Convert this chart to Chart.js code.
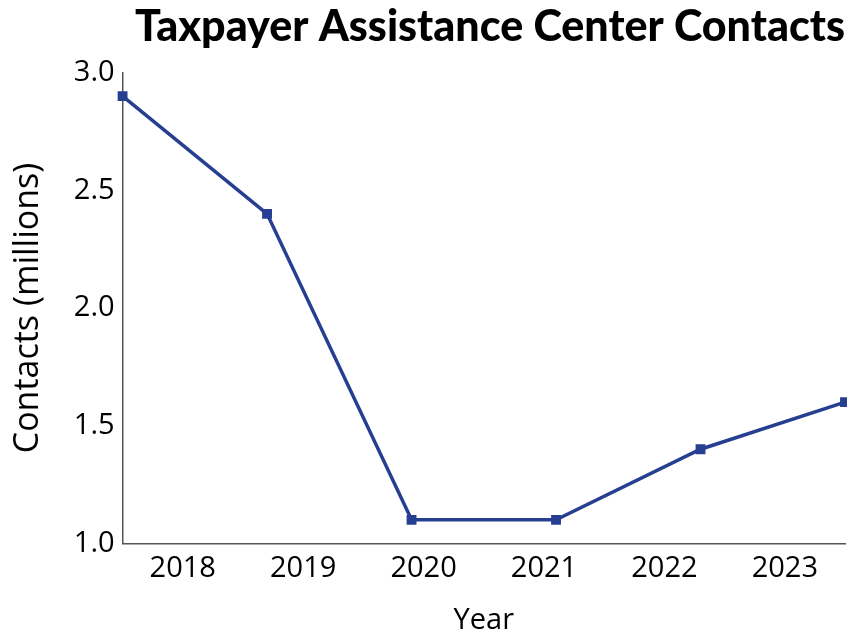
<!DOCTYPE html>
<html>
<head>
<meta charset="utf-8">
<script src="https://cdn.jsdelivr.net/npm/chart.js@4/dist/chart.umd.min.js"></script>
<style>
  html, body { margin: 0; padding: 0; background: #fff; }
  #wrap { width: 847px; height: 631px; }
</style>
</head>
<body>
<div id="wrap"><canvas id="chart" width="847" height="631"></canvas></div>
<script>
const years = ['2018', '2019', '2020', '2021', '2022', '2023']
const contacts = [2.9, 2.4, 1.1, 1.1, 1.4, 1.6]
const yTicks = [1.0, 1.5, 2.0, 2.5, 3.0]

const lineColor = '#263f91'
const axisColor = '#555555'
const labelFont = { family: '"Open Sans", sans-serif', size: 29 }

new Chart(document.getElementById('chart'), {
    type: 'line',
    data: {
        labels: years,
        datasets: [{
            data: contacts,
            xAxisID: 'x',
            borderColor: lineColor,
            backgroundColor: lineColor,
            borderWidth: 3.5,
            pointStyle: 'rect',
            pointRadius: 4.5,
            pointHoverRadius: 4.5,
            tension: 0,
            clip: false
        }]
    },
    options: {
        responsive: false,
        animation: false,
        layout: { autoPadding: false, padding: { left: 8, right: 2, top: 1, bottom: -7 } },
        plugins: {
            legend: { display: false },
            tooltip: { enabled: false },
            title: {
                display: true,
                text: 'Taxpayer Assistance Center Contacts',
                align: 'end',
                color: '#000',
                font: { family: 'Lato, sans-serif', size: 43, weight: '900' },
                padding: { top: 0, bottom: 20 }
            }
        },
        scales: {
            // points sit edge to edge, labels sit in the middle of each year slot
            x: {
                type: 'category',
                offset: false,
                display: false
            },
            xYears: {
                type: 'category',
                labels: years,
                position: 'bottom',
                offset: true,
                grid: { display: false, drawTicks: false },
                border: { display: true, color: axisColor, width: 1.5 },
                ticks: { color: '#000', font: labelFont, padding: 8, maxRotation: 0 },
                title: { display: true, text: 'Year', color: '#000', font: labelFont, padding: { top: 9, bottom: 0 } }
            },
            y: {
                min: 1,
                max: 3,
                afterBuildTicks: axis => { axis.ticks = yTicks.map(v => ({ value: v })) },
                grid: { display: false, drawTicks: false },
                border: { display: true, color: axisColor, width: 1.5 },
                ticks: { color: '#000', font: labelFont, padding: 8, callback: v => Number(v).toFixed(1) },
                title: { display: true, text: 'Contacts (millions)', color: '#000', font: { family: '"Open Sans", sans-serif', size: 34 }, padding: { top: 0, bottom: 17 } }
            }
        }
    }
})
</script>
</body>
</html>
